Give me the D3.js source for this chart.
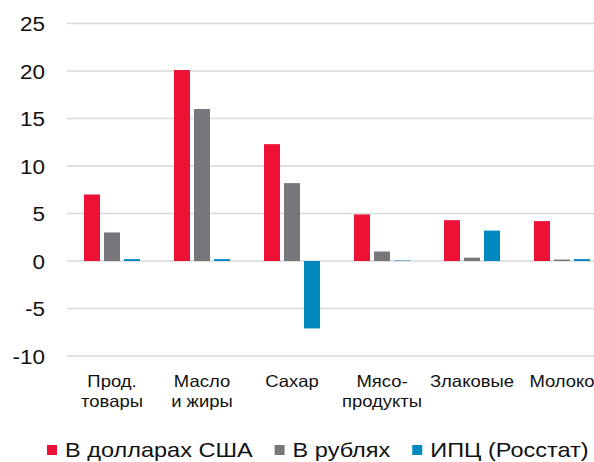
<!DOCTYPE html>
<html><head><meta charset="utf-8">
<script src="https://cdn.jsdelivr.net/npm/d3@7"></script>
<style>html,body{margin:0;padding:0;background:#fff;}svg{display:block;font-family:"Liberation Sans",Arial,sans-serif;}</style>
</head><body>
<svg id="c" width="594" height="462"></svg>
<script>
const categories = [["Прод.","товары"],["Масло","и жиры"],["Сахар"],["Мясо-","продукты"],["Злаковые"],["Молоко"]];
const seriesNames = ["В долларах США","В рублях","ИПЦ (Росстат)"];
const usd = [7.0, 20.1, 12.3, 4.9, 4.3, 4.2];
const rub = [3.0, 16.0, 8.2, 1.0, 0.35, 0.15];
const cpi = [0.2, 0.2, -7.1, 0.05, 3.2, 0.2];
const yTicks = [-10, -5, 0, 5, 10, 15, 20, 25];
const colors = ["#ED1136", "#77777B", "#0089BF"];

const svg = d3.select("#c");
const series = [usd, rub, cpi];
const catKeys = categories.map(c => c.join(" "));

const x0 = d3.scaleBand().domain(catKeys).range([67, 607]).padding(0);
const x1 = d3.scaleBand().domain(d3.range(3)).range([17, 73]).paddingInner(0.2).paddingOuter(0);
const y = d3.scaleLinear().domain([-10, 25]).range([356, 23.5]);

// gridlines
svg.append("g").selectAll("line").data(yTicks).join("line")
  .attr("x1", 67).attr("x2", 594)
  .attr("y1", d => y(d)).attr("y2", d => y(d))
  .attr("stroke", "#d9d9d9").attr("stroke-width", 1.5);

// y labels
svg.append("g").selectAll("text").data(yTicks).join("text")
  .attr("transform", d => `translate(45,${y(d)}) scale(1.07,1)`)
  .attr("dy", "0.36em")
  .attr("text-anchor", "end").attr("font-size", 21).attr("fill", "#111")
  .text(d => d);

// bars
const g = svg.append("g");
categories.forEach((c, i) => {
  series.forEach((s, j) => {
    const v = s[i];
    g.append("rect")
      .attr("x", x0(catKeys[i]) + x1(j))
      .attr("width", x1.bandwidth())
      .attr("y", y(Math.max(0, v)))
      .attr("height", Math.abs(y(v) - y(0)))
      .attr("fill", colors[j]);
  });
});

// category labels
const cl = svg.append("g");
categories.forEach((c, i) => {
  const cx = x0(catKeys[i]) + x0.bandwidth() / 2;
  c.forEach((line, k) => {
    cl.append("text")
      .attr("transform", `translate(${cx},${386.5 + k * 20}) scale(1.12,1)`)
      .attr("text-anchor", "middle").attr("font-size", 16.5).attr("fill", "#111")
      .text(line);
  });
});

// legend
const lg = svg.append("g");
let lx = 47;
const sx = 1.12;
seriesNames.forEach((name, j) => {
  lg.append("rect").attr("x", lx).attr("y", 445).attr("width", 10).attr("height", 10).attr("fill", colors[j]);
  const t = lg.append("text")
    .attr("transform", `translate(${lx + 18},456.5) scale(${sx},1)`)
    .attr("font-size", 21).attr("fill", "#111").text(name);
  lx += 18 + t.node().getComputedTextLength() * sx + 22;
});
</script>
</body></html>
